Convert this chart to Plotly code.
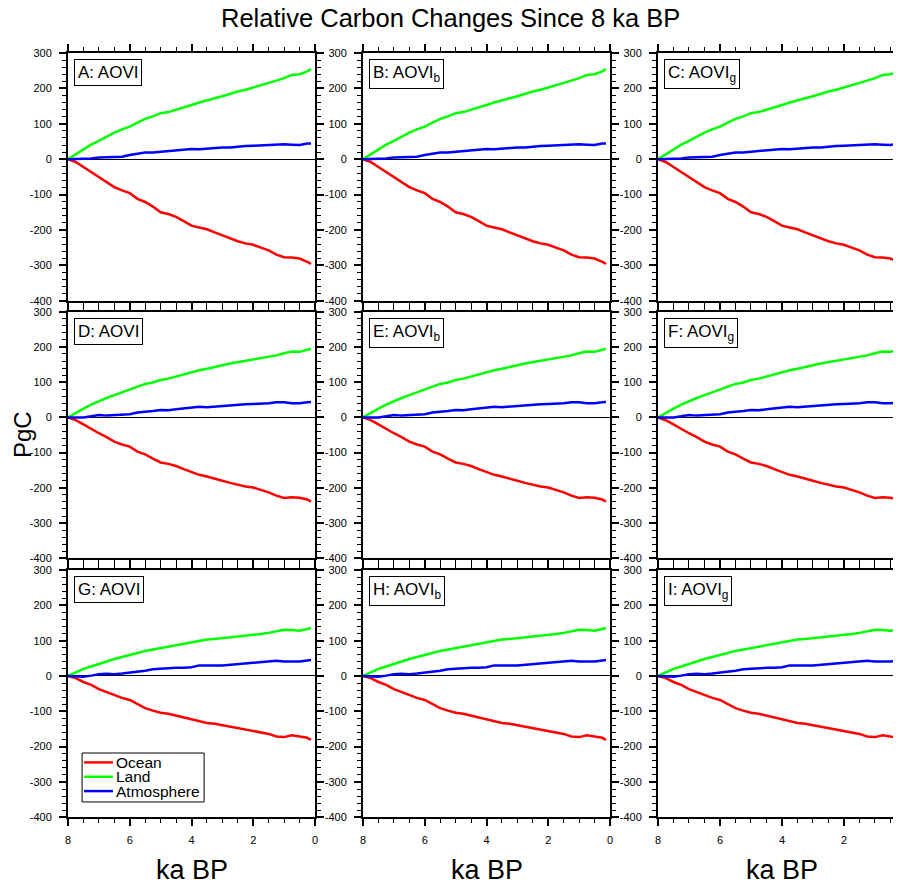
import plotly.graph_objects as go

# ---- data ----
ka = [8.0, 7.75, 7.5, 7.25, 7.0, 6.75, 6.5, 6.25, 6.0, 5.75, 5.5, 5.25, 5.0, 4.75,
      4.5, 4.25, 4.0, 3.75, 3.5, 3.25, 3.0, 2.75, 2.5, 2.25, 2.0, 1.75, 1.5, 1.25,
      1.0, 0.75, 0.5, 0.25, 0.13]

# Row 1 (A, B, C)
land_r1 = [0, 14, 29, 41, 52, 64, 75, 84, 92, 103, 114, 121, 130, 133, 139, 147, 153,
           160, 167, 172, 178, 185, 191, 196, 202, 208, 214, 222, 229, 238, 240, 248, 255]
atmos_r1 = [0, 0, 1, 2, 5, 6, 5, 7, 12, 16, 19, 19, 21, 21, 24, 26, 29, 28, 30, 31, 33,
            33, 36, 37, 38, 39, 40, 43, 42, 41, 40, 44, 44]
ocean_r1 = [0, -8, -22, -36, -52, -64, -79, -88, -96, -112, -121, -134, -150, -155, -163,
            -175, -188, -193, -198, -207, -216, -224, -232, -238, -242, -250, -258, -270,
            -277, -278, -281, -290, -296]

# Row 2 (D, E, F)
land_r2 = [0, 13, 25, 36, 46, 55, 63, 71, 78, 86, 95, 99, 106, 110, 116, 124, 130, 134,
           138, 142, 148, 153, 157, 160, 163, 167, 171, 176, 182, 187, 186, 191, 195]
atmos_r2 = [0, 0, 0, 3, 7, 5, 6, 6, 9, 14, 15, 18, 21, 20, 23, 25, 26, 30, 29, 31, 33,
            34, 36, 37, 38, 38, 40, 43, 43, 40, 40, 43, 44]
ocean_r2 = [0, -8, -20, -33, -45, -56, -69, -77, -83, -97, -105, -117, -128, -132, -138,
            -147, -155, -163, -168, -173, -180, -186, -192, -196, -199, -205, -213, -222,
            -229, -227, -228, -233, -239]

# Row 3 (G, H, I)
land_r3 = [0, 10, 20, 27, 33, 41, 48, 53, 59, 65, 71, 75, 81, 83, 87, 93, 97, 100, 103,
           105, 107, 109, 112, 114, 116, 119, 122, 126, 131, 130, 128, 133, 136]
atmos_r3 = [0, -1, -2, 1, 5, 6, 5, 7, 9, 11, 15, 19, 21, 21, 23, 23, 25, 30, 29, 30, 30,
            32, 35, 36, 38, 40, 42, 43, 41, 40, 41, 44, 45]
ocean_r3 = [0, -6, -17, -25, -37, -46, -55, -62, -68, -80, -91, -98, -104, -107, -112,
            -118, -123, -129, -133, -135, -139, -143, -147, -151, -156, -159, -164, -171,
            -173, -168, -171, -175, -181]

panel_labels = ["A: AOVI", "B: AOVI<sub>b</sub>", "C: AOVI<sub>g</sub>",
                "D: AOVI", "E: AOVI<sub>b</sub>", "F: AOVI<sub>g</sub>",
                "G: AOVI", "H: AOVI<sub>b</sub>", "I: AOVI<sub>g</sub>"]
series_names = ["Ocean", "Land", "Atmosphere"]
series_colors = ["#ff0000", "#00ff00", "#0000ff"]
rows_data = [(ocean_r1, land_r1, atmos_r1),
             (ocean_r2, land_r2, atmos_r2),
             (ocean_r3, land_r3, atmos_r3)]
y_ticks = [-400, -300, -200, -100, 0, 100, 200, 300]
x_ticks = [8, 6, 4, 2, 0]

# ---- layout geometry (pixels in the 901x886 window; page body has an 8px margin) ----
OFF = 8
W, H = 901 - OFF, 886 - OFF


def px_x(p):
    return (p - OFF) / W


def px_y(p):
    return 1 - (p - OFF) / H


col_px = [(68, 315), (363, 610), (658, 901)]
row_px = [(53, 300.7), (311.7, 558.3), (570, 817.3)]
x_ranges = [[8, 0], [8, 0], [8, 0.16]]

FONT = "Liberation Sans, Arial, Helvetica, sans-serif"

fig = go.Figure()
layout = dict(
    width=W, height=H, margin=dict(l=0, r=0, t=0, b=0, autoexpand=False),
    paper_bgcolor="white", plot_bgcolor="white",
    font=dict(family=FONT, color="black"),
    showlegend=False,
)
annotations = []
shapes = []

for r in range(3):
    for c in range(3):
        k = r * 3 + c + 1
        xa = "x" if k == 1 else f"x{k}"
        ya = "y" if k == 1 else f"y{k}"
        x0, x1 = col_px[c]
        y0, y1 = row_px[r]
        layout["xaxis" if k == 1 else f"xaxis{k}"] = dict(
            domain=[px_x(x0), min(1.0, px_x(x1))], anchor=ya, range=x_ranges[c],
            automargin=False,
            tickmode="array", tickvals=x_ticks, ticktext=[str(v) for v in x_ticks],
            showticklabels=(r == 2), ticks="outside", ticklen=7, tickwidth=1.5,
            tickcolor="black", showline=True, linecolor="black", linewidth=2,
            mirror="ticks", showgrid=False, zeroline=False,
            tickfont=dict(size=11, family=FONT), ticklabelstandoff=4,
            minor=dict(dtick=0.5, tick0=0, ticks="outside", ticklen=4,
                       tickwidth=1, tickcolor="black", showgrid=False),
        )
        layout["yaxis" if k == 1 else f"yaxis{k}"] = dict(
            domain=[px_y(y1), px_y(y0)], anchor=xa, range=[-400, 300],
            automargin=False,
            tickmode="array", tickvals=y_ticks, ticktext=[str(v) for v in y_ticks],
            ticks="outside", ticklen=7, tickwidth=1.5, tickcolor="black",
            showline=True, linecolor="black", linewidth=2,
            mirror=("ticks" if c < 2 else False), showgrid=False,
            zeroline=True, zerolinecolor="black", zerolinewidth=1.3,
            tickfont=dict(size=11, family=FONT), ticklabelstandoff=5,
            minor=dict(dtick=20, tick0=0, ticks="outside", ticklen=4,
                       tickwidth=1, tickcolor="black", showgrid=False),
        )
        for s in range(3):
            fig.add_trace(go.Scatter(
                x=ka, y=rows_data[r][s], mode="lines", name=series_names[s],
                line=dict(color=series_colors[s], width=2.5),
                xaxis=xa, yaxis=ya, hoverinfo="skip"))
        annotations.append(dict(
            text=panel_labels[k - 1], xref=f"{xa} domain", yref=f"{ya} domain",
            x=0.024, y=0.976, xanchor="left", yanchor="top", showarrow=False,
            font=dict(size=17, family=FONT), bordercolor="black", borderwidth=1,
            borderpad=3, bgcolor="white"))

# legend drawn inside panel G (box, key lines, labels)
lx, ly = "x7 domain", "y7 domain"
shapes.append(dict(type="rect", xref=lx, yref=ly, x0=0.057, x1=0.551, y0=0.062,
                   y1=0.260, line=dict(color="black", width=1), fillcolor="white",
                   layer="above"))
for s, yy in zip(range(3), [0.222, 0.164, 0.106]):
    shapes.append(dict(type="line", xref=lx, yref=ly, x0=0.065, x1=0.182, y0=yy, y1=yy,
                       line=dict(color=series_colors[s], width=2.5), layer="above"))
    annotations.append(dict(text=series_names[s], xref=lx, yref=ly, x=0.188, y=yy,
                            xanchor="left", yanchor="middle", showarrow=False,
                            font=dict(size=15.5, family=FONT)))

# titles
annotations.append(dict(text="Relative Carbon Changes Since 8 ka BP", xref="paper",
                        yref="paper", x=px_x(450), y=px_y(18), xanchor="center",
                        yanchor="middle", showarrow=False,
                        font=dict(size=25.5, family=FONT)))
annotations.append(dict(text="PgC", xref="paper", yref="paper", x=px_x(22),
                        y=px_y(435), xanchor="center", yanchor="middle",
                        textangle=-90, showarrow=False,
                        font=dict(size=24, family=FONT)))
for cx in [191.5, 486.5, 782]:
    annotations.append(dict(text="ka BP", xref="paper", yref="paper", x=px_x(cx),
                            y=px_y(870), xanchor="center", yanchor="middle",
                            showarrow=False, font=dict(size=27, family=FONT)))

layout["annotations"] = annotations
layout["shapes"] = shapes
fig.update_layout(**layout)
fig.write_html("out.html")
